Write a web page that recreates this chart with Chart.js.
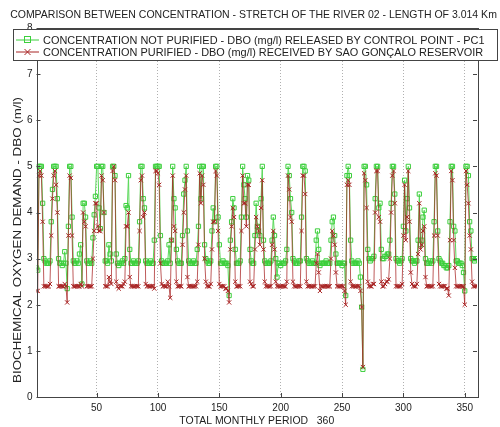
<!DOCTYPE html>
<html>
<head>
<meta charset="utf-8">
<script src="https://cdn.jsdelivr.net/npm/chart.js@4.4.1/dist/chart.umd.min.js"></script>
<style>
  html, body { margin: 0; padding: 0; background: #fff; }
  canvas { display: block; }
</style>
</head>
<body>
<canvas id="dbo-chart" width="500" height="427"></canvas>
<script>
const chartTitle = 'COMPARISON BETWEEN CONCENTRATION - STRETCH OF THE RIVER 02 - LENGTH OF 3.014 Km';
const seriesNames = [
    'CONCENTRATION NOT PURIFIED - DBO (mg/l) RELEASED BY CONTROL POINT - PC1',
    'CONCENTRATION PURIFIED - DBO (mg/l) RECEIVED BY SAO GONÇALO RESERVOIR'
];
const xTitle = 'TOTAL MONTHLY PERIOD   360';
const yTitle = 'BIOCHEMICAL OXYGEN DEMAND - DBO (m/l)';
const xTicks = [50, 100, 150, 200, 250, 300, 350];
const yTicks = [0, 1, 2, 3, 4, 5, 6, 7, 8];

// one row = 12 months
const dboNotPurified = [
    2.8, 2.75, 5.0, 5.0, 5.0, 4.2, 3.0, 2.95, 2.9, 2.9, 2.9, 2.95,
    3.8, 4.5, 5.0, 5.0, 5.0, 4.3, 3.0, 2.9, 2.9, 2.85, 2.9, 3.15,
    2.9, 2.35, 3.7, 5.0, 5.0, 3.9, 2.95, 2.9, 2.9, 2.95, 2.9, 3.1,
    3.3, 2.45, 4.2, 4.2, 3.9, 2.95, 2.9, 2.9, 2.95, 2.9, 3.45, 3.95,
    4.35, 5.0, 5.0, 4.1, 3.65, 5.0, 5.0, 4.0, 2.95, 2.95, 2.9, 3.3,
    3.1, 2.95, 5.0, 5.0, 4.8, 3.1, 2.9, 2.85, 2.9, 2.9, 2.95, 2.9,
    3.0, 4.15, 4.1, 4.8, 3.2, 2.9, 2.9, 2.95, 2.9, 2.9, 2.9, 2.95,
    3.8, 5.0, 5.0, 4.3, 4.1, 2.95, 2.9, 2.9, 2.9, 2.95, 2.9, 2.9,
    3.4, 5.0, 5.0, 5.0, 5.0, 3.5, 2.95, 2.9, 2.9, 2.9, 2.9, 2.95,
    3.3, 2.9, 3.4, 5.0, 4.3, 4.1, 3.2, 2.95, 2.9, 2.9, 2.9, 3.5,
    4.4, 4.7, 5.0, 3.6, 2.95, 2.9, 2.9, 2.9, 2.95, 2.9, 2.9, 3.2,
    3.7, 5.0, 4.3, 5.0, 5.0, 3.3, 3.0, 2.95, 2.9, 2.9, 2.95, 3.6,
    4.1, 3.8, 5.0, 5.0, 3.9, 3.3, 2.9, 2.9, 2.95, 2.9, 2.9, 2.9,
    2.85, 2.2, 3.4, 3.8, 4.3, 4.1, 3.2, 2.9, 2.9, 2.9, 2.95, 3.9,
    5.0, 4.6, 4.3, 3.9, 4.8, 4.7, 3.2, 2.95, 2.9, 2.9, 3.5, 4.2,
    3.7, 3.6, 3.5, 4.3, 5.0, 3.4, 2.95, 2.9, 2.9, 2.9, 2.9, 2.95,
    3.4, 3.9, 3.5, 3.0, 2.6, 2.9, 2.9, 2.85, 2.9, 2.9, 2.9, 2.95,
    3.2, 5.0, 4.8, 4.3, 4.0, 3.0, 2.95, 2.9, 2.9, 2.9, 2.95, 2.95,
    3.9, 5.0, 5.0, 4.9, 3.0, 2.95, 2.9, 2.9, 2.9, 2.95, 2.9, 2.9,
    3.4, 3.6, 3.2, 2.85, 2.9, 2.9, 2.9, 2.9, 2.95, 2.9, 2.9, 2.9,
    3.4, 3.8, 3.9, 3.5, 3.1, 2.9, 2.9, 2.9, 2.9, 2.85, 2.9, 2.9,
    2.2, 4.8, 5.0, 4.8, 3.4, 2.95, 2.9, 2.9, 2.9, 2.9, 2.95, 2.9,
    2.6, 1.95, 0.6, 5.0, 5.0, 4.6, 3.2, 3.0, 2.95, 3.0, 3.0, 3.05,
    4.3, 5.0, 5.0, 4.1, 4.2, 3.2, 3.0, 3.0, 3.05, 3.05, 3.1, 3.1,
    3.4, 4.2, 5.0, 5.0, 4.4, 3.0, 2.95, 2.95, 2.9, 2.95, 3.0, 3.7,
    4.7, 3.6, 4.3, 5.0, 4.1, 3.0, 2.95, 2.95, 2.9, 2.95, 2.95, 3.4,
    4.4, 3.3, 3.4, 3.9, 4.05, 3.0, 2.9, 2.9, 2.9, 2.95, 2.9, 2.95,
    3.8, 5.0, 5.0, 3.6, 3.0, 2.95, 2.9, 2.9, 2.85, 2.85, 2.8, 2.8,
    2.85, 3.8, 5.0, 5.0, 3.7, 3.6, 2.95, 2.95, 2.9, 2.9, 2.9, 2.85,
    2.7, 2.3, 5.0, 5.0, 4.8, 3.8, 3.6, 3.0, 3.0, 2.95, 3.0, 3.0
];

const dboPurified = [
    2.3, 2.3, 4.8, 4.9, 4.8, 3.8, 2.4, 2.4, 2.4, 2.4, 2.4, 2.45,
    3.5, 4.3, 4.8, 4.9, 4.6, 4.0, 2.4, 2.4, 2.4, 2.4, 2.4, 2.45,
    2.4, 2.05, 3.5, 4.8, 4.75, 3.5, 2.4, 2.4, 2.4, 2.4, 2.4, 2.4,
    2.45, 2.4, 4.0, 3.8, 3.7, 2.4, 2.4, 2.4, 2.4, 2.4, 3.0, 3.6,
    4.2, 4.2, 3.7, 3.6, 3.6, 4.8, 4.7, 4.0, 2.4, 2.4, 2.4, 2.6,
    2.5, 2.45, 4.9, 5.0, 4.7, 2.5, 2.4, 2.35, 2.4, 2.4, 2.4, 2.45,
    2.5, 3.7, 3.7, 4.0, 2.6, 2.4, 2.4, 2.4, 2.4, 2.4, 2.4, 2.4,
    3.6, 4.7, 4.8, 3.9, 4.0, 2.45, 2.4, 2.4, 2.4, 2.4, 2.4, 2.4,
    2.35, 4.9, 4.9, 4.85, 4.6, 2.9, 2.45, 2.4, 2.4, 2.4, 2.4, 2.5,
    2.4, 2.15, 3.4, 4.8, 3.7, 3.6, 2.5, 2.4, 2.4, 2.4, 2.4, 3.3,
    4.0, 4.5, 4.8, 2.6, 2.4, 2.4, 2.4, 2.4, 2.4, 2.4, 2.4, 2.5,
    3.3, 4.85, 4.2, 4.8, 4.6, 3.0, 2.5, 2.4, 2.4, 2.4, 2.45, 3.2,
    3.8, 3.8, 4.9, 4.8, 3.6, 2.45, 2.4, 2.4, 2.4, 2.4, 2.35, 2.35,
    2.3, 2.05, 3.2, 3.7, 4.1, 3.9, 2.5, 2.4, 2.4, 2.4, 2.4, 3.6,
    4.8, 4.2, 4.2, 3.7, 4.6, 4.6, 2.5, 2.45, 2.4, 2.4, 3.2, 3.9,
    3.7, 3.6, 3.3, 4.1, 4.7, 3.2, 2.5, 2.4, 2.4, 2.4, 2.4, 2.4,
    3.3, 3.6, 3.2, 2.5, 2.4, 2.4, 2.4, 2.4, 2.4, 2.4, 2.4, 2.4,
    2.5, 4.8, 4.5, 3.9, 3.8, 2.5, 2.4, 2.4, 2.4, 2.4, 2.4, 2.4,
    3.6, 4.8, 4.8, 4.4, 2.5, 2.4, 2.4, 2.4, 2.4, 2.4, 2.4, 2.4,
    2.9, 3.1, 2.7, 2.3, 2.4, 2.4, 2.4, 2.4, 2.4, 2.4, 2.4, 2.4,
    3.0, 3.6, 3.5, 3.3, 2.7, 2.4, 2.4, 2.4, 2.4, 2.4, 2.4, 2.3,
    2.0, 4.6, 4.7, 4.6, 2.5, 2.4, 2.4, 2.4, 2.4, 2.4, 2.4, 2.4,
    2.3, 1.95, 0.65, 4.85, 4.7, 4.1, 2.5, 2.4, 2.4, 2.4, 2.45, 2.45,
    4.0, 4.9, 4.9, 3.9, 3.8, 2.5, 2.4, 2.4, 2.45, 2.5, 2.5, 2.55,
    3.0, 4.0, 4.8, 4.9, 4.2, 2.4, 2.4, 2.4, 2.4, 2.4, 2.45, 3.5,
    4.6, 3.4, 3.9, 4.9, 3.8, 2.7, 2.45, 2.4, 2.4, 2.4, 2.45, 3.1,
    4.2, 3.2, 3.3, 3.6, 3.7, 2.6, 2.4, 2.4, 2.4, 2.4, 2.4, 2.4,
    3.5, 4.85, 4.8, 3.5, 2.45, 2.4, 2.4, 2.4, 2.4, 2.4, 2.35, 2.35,
    2.2, 3.4, 4.9, 4.7, 3.4, 2.8, 2.4, 2.4, 2.4, 2.4, 2.4, 2.4,
    2.4, 2.0, 4.9, 4.6, 4.2, 3.5, 3.2, 2.5, 2.4, 2.4, 2.4, 2.4
];

const fontFamily = '"Liberation Sans", Arial, sans-serif';
const textColor = '#222';
const greenColor = '#3ccf3c';
const redColor = '#a82424';

// font size that makes a text fill a given width
function fitSize(text, width) {
    const c = document.createElement('canvas').getContext('2d');
    c.font = '100px ' + fontFamily;
    return 100 * width / c.measureText(text).width;
}

const titleSize = fitSize(chartTitle, 487);
const legendSize = fitSize(seriesNames[0], 442);
const xTitleSize = fitSize(xTitle, 155);
// y label is drawn at 10px and stretched along its length
const yTitleStretch = fitSize(yTitle, 286) / 10;

const toPoints = values => values.map((v, i) => ({ x: i + 1, y: v }));

// matlab style box, inward ticks, title, legend and y label
const matlabDecor = {
    id: 'matlabDecor',
    afterDraw(chart) {
        const { ctx, chartArea: a, scales } = chart;
        ctx.save();
        ctx.strokeStyle = '#444';
        ctx.lineWidth = 1;
        ctx.strokeRect(Math.round(a.left) + 0.5, Math.round(a.top) + 0.5,
            Math.round(a.right - a.left), Math.round(a.bottom - a.top));

        ctx.beginPath();
        xTicks.forEach(v => {
            const x = Math.round(scales.x.getPixelForValue(v)) + 0.5;
            ctx.moveTo(x, a.bottom); ctx.lineTo(x, a.bottom - 4);
            ctx.moveTo(x, a.top); ctx.lineTo(x, a.top + 4);
        });
        yTicks.forEach(v => {
            const y = Math.round(scales.y.getPixelForValue(v)) + 0.5;
            ctx.moveTo(a.left, y); ctx.lineTo(a.left + 4, y);
            ctx.moveTo(a.right, y); ctx.lineTo(a.right - 4, y);
        });
        ctx.stroke();

        ctx.fillStyle = textColor;
        ctx.textBaseline = 'middle';
        ctx.textAlign = 'center';
        ctx.font = titleSize.toFixed(2) + 'px ' + fontFamily;
        ctx.fillText(chartTitle, 253.5, 15);

        // legend box
        ctx.fillStyle = '#fff';
        ctx.fillRect(13, 29, 484, 31);
        ctx.strokeStyle = '#444';
        ctx.strokeRect(13.5, 29.5, 484, 31);
        const rows = [40, 52];
        const styles = [
            { line: greenColor, mark: 'rect' },
            { line: redColor, mark: 'cross' }
        ];
        rows.forEach((y, i) => {
            ctx.strokeStyle = styles[i].line;
            ctx.beginPath();
            ctx.moveTo(16, y); ctx.lineTo(39, y);
            ctx.stroke();
            if (styles[i].mark === 'rect') {
                ctx.strokeRect(24.5, y - 3.5, 6, 6);
            } else {
                ctx.beginPath();
                ctx.moveTo(24.5, y - 3); ctx.lineTo(30.5, y + 3);
                ctx.moveTo(30.5, y - 3); ctx.lineTo(24.5, y + 3);
                ctx.stroke();
            }
            ctx.fillStyle = textColor;
            ctx.textAlign = 'left';
            ctx.font = legendSize.toFixed(2) + 'px ' + fontFamily;
            ctx.fillText(seriesNames[i], 43, y + 0.5);
        });

        ctx.translate(18, 240);
        ctx.rotate(-Math.PI / 2);
        ctx.scale(yTitleStretch, 1);
        ctx.textAlign = 'center';
        ctx.font = '10px ' + fontFamily;
        ctx.fillText(yTitle, 0, 0);
        ctx.restore();
    }
};

const tickFont = { family: fontFamily, size: 10 };

new Chart(document.getElementById('dbo-chart'), {
    type: 'line',
    data: {
        datasets: [
            {
                label: seriesNames[0],
                data: toPoints(dboNotPurified),
                borderColor: '#5ad85a',
                borderWidth: 1,
                pointStyle: 'rect',
                pointRadius: 3,
                pointBorderWidth: 1,
                pointBorderColor: greenColor,
                pointBackgroundColor: 'rgba(0,0,0,0)',
                tension: 0,
                order: 1
            },
            {
                label: seriesNames[1],
                data: toPoints(dboPurified),
                borderColor: 'rgba(168,36,36,0.75)',
                borderWidth: 1,
                pointStyle: 'crossRot',
                pointRadius: 3,
                pointBorderWidth: 1,
                pointBorderColor: redColor,
                tension: 0,
                order: 0
            }
        ]
    },
    options: {
        responsive: false,
        animation: false,
        devicePixelRatio: 1,
        layout: { padding: { top: 28, right: 23, left: 0, bottom: 0 } },
        plugins: {
            legend: { display: false },
            title: { display: false },
            tooltip: { enabled: false }
        },
        scales: {
            x: {
                type: 'linear',
                min: 1,
                max: 360,
                afterBuildTicks: scale => { scale.ticks = xTicks.map(v => ({ value: v })); },
                afterFit: scale => { scale.height = 30; },
                grid: { color: '#b0b0b0', lineWidth: 1, drawTicks: false },
                border: { display: false, dash: [1, 2] },
                ticks: { padding: 5, font: tickFont, color: textColor, maxRotation: 0, autoSkip: false },
                title: {
                    display: true,
                    text: xTitle,
                    color: textColor,
                    font: { family: fontFamily, size: xTitleSize },
                    padding: { top: 1, bottom: 0 }
                }
            },
            y: {
                min: 0,
                max: 8,
                afterBuildTicks: scale => { scale.ticks = yTicks.map(v => ({ value: v })); },
                afterFit: scale => { scale.width = 36.5; },
                grid: { display: false, drawTicks: false },
                border: { display: false },
                ticks: { padding: 4, font: tickFont, color: textColor, autoSkip: false }
            }
        }
    },
    plugins: [matlabDecor]
});
</script>
</body>
</html>
